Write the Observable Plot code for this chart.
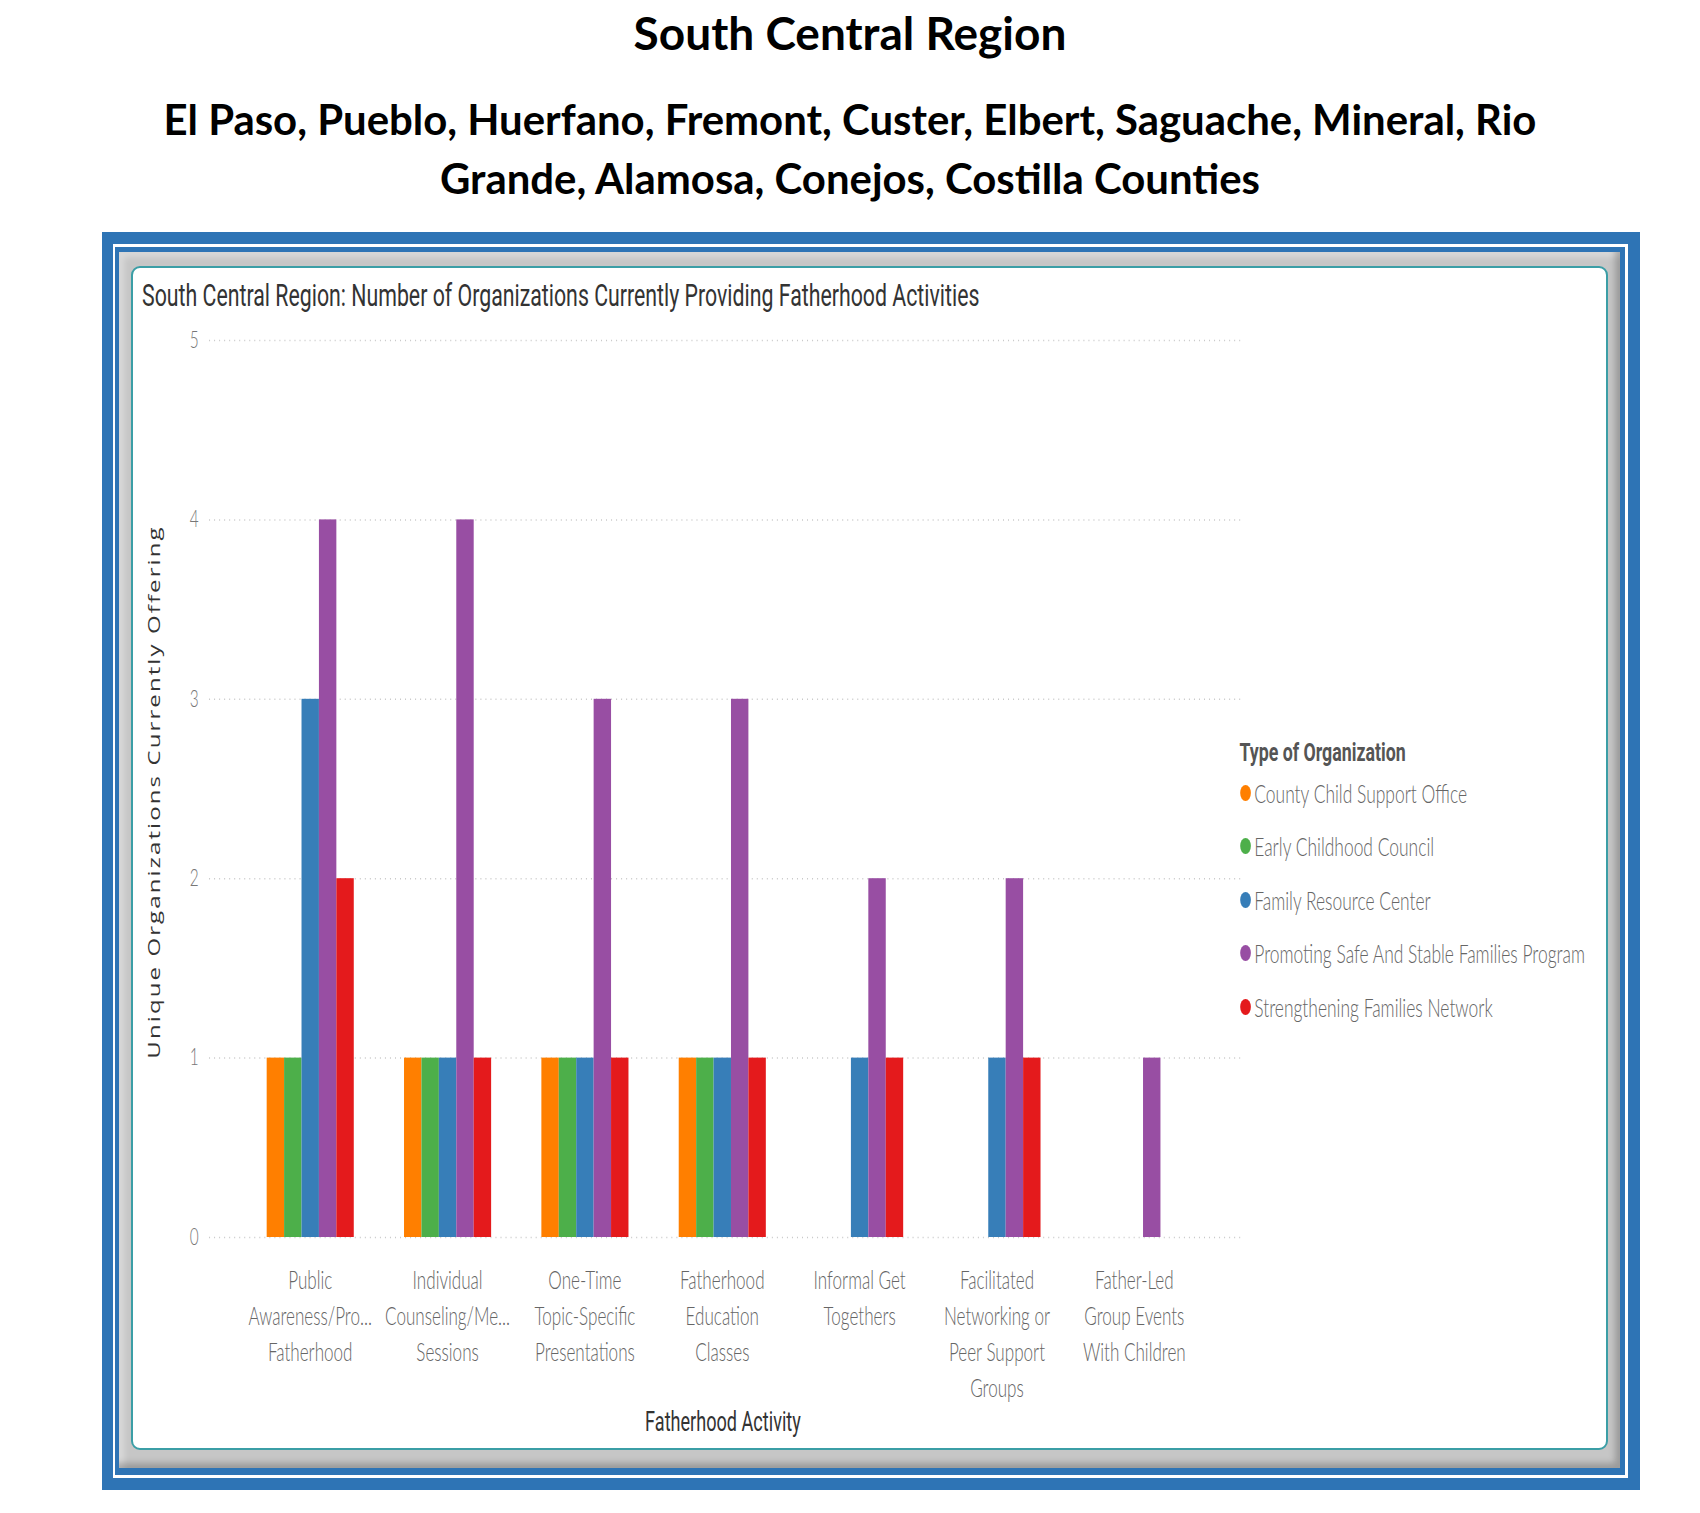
<!DOCTYPE html>
<html>
<head>
<meta charset="utf-8">
<script src="https://cdn.jsdelivr.net/npm/d3@7"></script>
<script src="https://cdn.jsdelivr.net/npm/@observablehq/plot@0.6"></script>
<style>
  html, body { margin: 0; padding: 0; background: #fff; }
  #page { position: relative; width: 1700px; height: 1513px; overflow: hidden; background: #fff; }
  .h1 { position: absolute; left: 0; width: 1700px; top: 10px; text-align: center;
        font-family: Lato, "Open Sans", sans-serif; font-weight: 700; font-size: 46px; line-height: 1; color: #000; }
  .h2 { position: absolute; left: 0; width: 1700px; top: 90px; text-align: center;
        font-family: Lato, "Open Sans", sans-serif; font-weight: 700; font-size: 41.9px; line-height: 59px; color: #000; }
  .box { position: absolute; box-sizing: border-box; }
  #wrap { position: absolute; left: 132px; top: 0; width: 2250px; height: 1513px;
          transform: scaleX(0.67); transform-origin: 0 0; }
  #ctitle { position: absolute; left: 15px; top: 280px; white-space: nowrap;
            font-family: Roboto, sans-serif; font-size: 31.8px; line-height: 1; color: #333; }
  .plotlayer { position: absolute; left: 0; top: 320px; }
  #ytitle { position: absolute; left: 33px; top: 792px; white-space: nowrap;
            transform: translate(-50%, -50%) rotate(-90deg);
            font-family: "Open Sans", sans-serif; font-size: 24px; letter-spacing: 2.1px; line-height: 1; color: #333; }
  #xtitle { position: absolute; left: 882px; top: 1409px; white-space: nowrap; transform: translateX(-50%);
            font-family: Roboto, sans-serif; font-size: 27px; line-height: 1; color: #333; }
  #legend { position: absolute; left: 1655px; top: 739px; }
  #legend .lt { font-family: Roboto, sans-serif; font-weight: 700; font-size: 26.5px; line-height: 1; color: #555;
                white-space: nowrap; margin-left: -2px; height: 27px; }
  #legend .row { display: flex; align-items: center; height: 53.5px; white-space: nowrap; }
  #legend .dot { width: 16px; height: 16px; border-radius: 50%; margin-right: 5px; margin-left: -1px; flex: none; }
  #legend .lab { font-family: Lato, sans-serif; font-weight: 300; font-size: 26px; color: #666; }
</style>
</head>
<body>
<div id="page">
  <div class="h1">South Central Region</div>
  <div class="h2">El Paso, Pueblo, Huerfano, Fremont, Custer, Elbert, Saguache, Mineral, Rio<br>Grande, Alamosa, Conejos, Costilla Counties</div>

  <div class="box" style="left:102px;top:232px;width:1538px;height:1258px;background:#2E74B5;"></div>
  <div class="box" style="left:113px;top:244px;width:1515px;height:1234px;background:#fff;"></div>
  <div class="box" style="left:115px;top:247px;width:1510px;height:1228px;background:#2E74B5;"></div>
  <div class="box" style="left:119px;top:252px;width:1501px;height:1216px;background:#c6c6c6;
       box-shadow: inset -5px -5px 6px rgba(0,0,0,0.22), inset 5px 5px 6px rgba(255,255,255,0.35);"></div>
  <div class="box" style="left:131px;top:266px;width:1477px;height:1184px;background:#fff;border:2px solid #3b9ea6;border-radius:9px;"></div>

  <div id="wrap">
    <div id="ctitle">South Central Region: Number of Organizations Currently Providing Fatherhood Activities</div>
    <div id="gridlayer" class="plotlayer"></div>
    <div id="barlayer" class="plotlayer"></div>
    <div id="ytitle">Unique Organizations Currently Offering</div>
    <div id="xtitle">Fatherhood Activity</div>
    <div id="legend"></div>
  </div>
</div>
<script>
// ---- data ----
const activities = [
  "Public\nAwareness/Pro...\nFatherhood",
  "Individual\nCounseling/Me...\nSessions",
  "One-Time\nTopic-Specific\nPresentations",
  "Fatherhood\nEducation\nClasses",
  "Informal Get\nTogethers",
  "Facilitated\nNetworking or\nPeer Support\nGroups",
  "Father-Led\nGroup Events\nWith Children"
];
const orgTypes = [
  "County Child Support Office",
  "Early Childhood Council",
  "Family Resource Center",
  "Promoting Safe And Stable Families Program",
  "Strengthening Families Network"
];
const orgColors = ["#FF7F00", "#4DAF4A", "#377EB8", "#984EA3", "#E41A1C"];
const countyChildSupportOffice    = [1, 1, 1, 1, 0, 0, 0];
const earlyChildhoodCouncil       = [1, 1, 1, 1, 0, 0, 0];
const familyResourceCenter        = [3, 1, 1, 1, 1, 1, 0];
const promotingSafeStableFamilies = [4, 4, 3, 3, 2, 2, 1];
const strengtheningFamiliesNet    = [2, 1, 1, 1, 1, 1, 0];
const yTicks = [0, 1, 2, 3, 4, 5];

const seriesList = [countyChildSupportOffice, earlyChildhoodCouncil, familyResourceCenter,
                    promotingSafeStableFamilies, strengtheningFamiliesNet];
const rows = activities.flatMap((a, i) =>
  orgTypes.map((t, j) => ({activity: a, type: t, value: seriesList[j][i]})));

const common = {
  width: 1700,
  height: 1125,
  marginLeft: 115,
  marginRight: 43,
  marginTop: 20,
  marginBottom: 208,
  style: {background: "transparent", fontFamily: "Lato, sans-serif", color: "#666", overflow: "visible"}
};

// grid + y axis layer (spans the whole frame)
const gridChart = Plot.plot({
  ...common,
  x: {axis: null},
  y: {domain: [0, 5], axis: null},
  marks: [
    Plot.ruleY(yTicks, {stroke: "#c9c9c9", strokeWidth: 1.5, strokeDasharray: "1.5,6"}),
    Plot.axisY(yTicks, {tickSize: 0, tickPadding: 16, fontSize: 23, fontWeight: 300, fill: "#777",
                        tickFormat: d => String(d), label: null})
  ]
});
document.getElementById("gridlayer").appendChild(gridChart);

// grouped bars
const barChart = Plot.plot({
  ...common,
  facet: {data: rows, x: "activity"},
  fx: {domain: activities, paddingInner: 0, paddingOuter: 0.2475, align: 0.447, label: null},
  x: {domain: orgTypes, paddingInner: 0, paddingOuter: 1.32, axis: null},
  y: {domain: [0, 5], axis: null},
  color: {domain: orgTypes, range: orgColors},
  marks: [
    Plot.barY(rows, {x: "type", y: "value", fill: "type", filter: d => d.value > 0}),
    Plot.axisFx({anchor: "bottom", tickSize: 0, tickPadding: 26, fontSize: 25.5, fontWeight: 300,
                 lineHeight: 1.41, fill: "#666", label: null})
  ]
});
document.getElementById("barlayer").appendChild(barChart);

// legend
const lg = d3.select("#legend");
lg.append("div").attr("class", "lt").text("Type of Organization");
orgTypes.forEach((t, i) => {
  const r = lg.append("div").attr("class", "row");
  r.append("div").attr("class", "dot").style("background", orgColors[i]);
  r.append("div").attr("class", "lab").text(t);
});
</script>
</body>
</html>
